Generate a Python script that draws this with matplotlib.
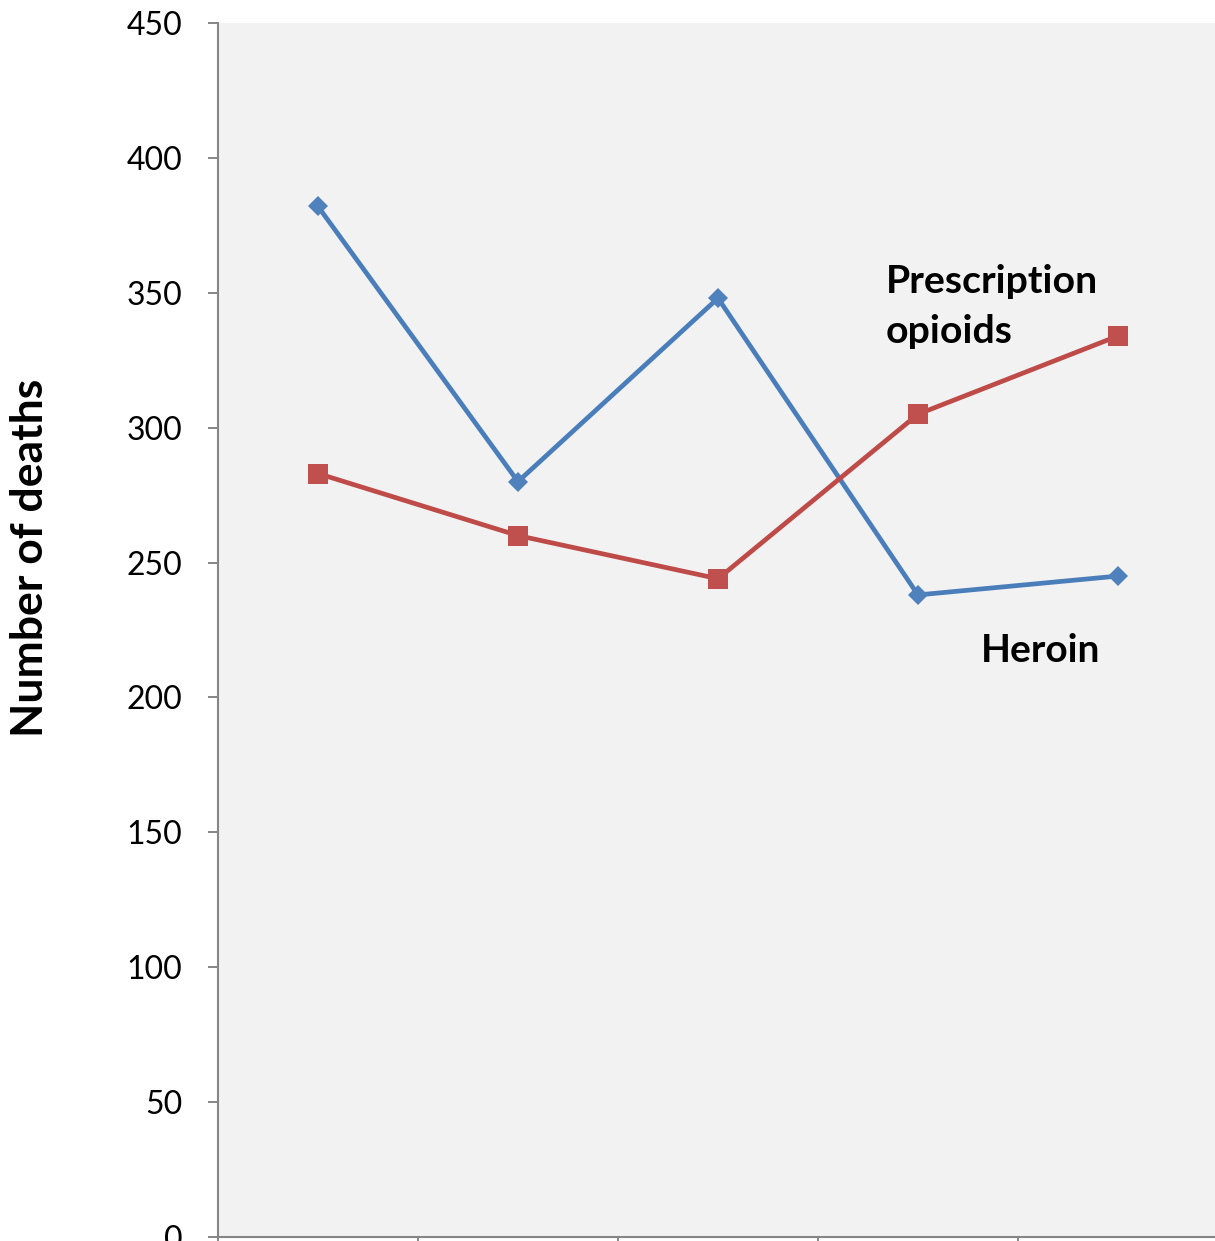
"""
Line chart of annual deaths from heroin and prescription opioids.
"""
import matplotlib
matplotlib.use("Agg")
import matplotlib.pyplot as plt

plt.rcParams["font.family"] = ["Lato", "DejaVu Sans"]

# Data
periods = [0, 1, 2, 3, 4]
heroin = [382, 280, 348, 238, 245]
prescription_opioids = [283, 260, 244, 305, 334]
y_ticks = [0, 50, 100, 150, 200, 250, 300, 350, 400, 450]

AXIS_GREY = "#868686"

fig = plt.figure(figsize=(12.15, 12.41), dpi=100)
ax = fig.add_axes([218 / 1215, 4 / 1241, 1000 / 1215, 1214 / 1241])
ax.set_facecolor("#F2F2F2")

ax.plot(periods, heroin, color="#4A7EBB", lw=3.4, marker="D",
        ms=10.5, mfc="#4F81BD", mec="#4F81BD", mew=0, zorder=3)
ax.plot(periods, prescription_opioids, color="#BE4B48", lw=3.4, marker="s",
        ms=14.5, mfc="#C0504D", mec="#C0504D", mew=0, zorder=3)

# category boundaries get the tick marks, no labels
ax.set_xlim(-0.5, 4.5)
ax.set_xticks([p - 0.5 for p in periods] + [4.5])
ax.set_xticklabels([])
ax.set_ylim(0, 450)
ax.set_yticks(y_ticks)
ax.tick_params(axis="y", direction="out", length=7.5, width=1.4,
               color=AXIS_GREY, labelsize=23, pad=18)
ax.tick_params(axis="x", direction="out", length=7.5, width=1.4,
               color=AXIS_GREY)

for side in ["top", "right"]:
    ax.spines[side].set_visible(False)
for side in ["left", "bottom"]:
    ax.spines[side].set_color(AXIS_GREY)
    ax.spines[side].set_linewidth(1.5)

ax.text(2.84, 345, "Prescription\nopioids", fontsize=28.3, fontweight="bold",
        ha="left", va="center", linespacing=1.5)
ax.text(3.315, 217.5, "Heroin", fontsize=28, fontweight="bold",
        ha="left", va="center")

fig.text(30 / 1215, 683 / 1241, "Number of deaths", rotation=90,
         fontsize=32, fontweight="bold", ha="center", va="center")

fig.savefig("out.png", dpi=100)
